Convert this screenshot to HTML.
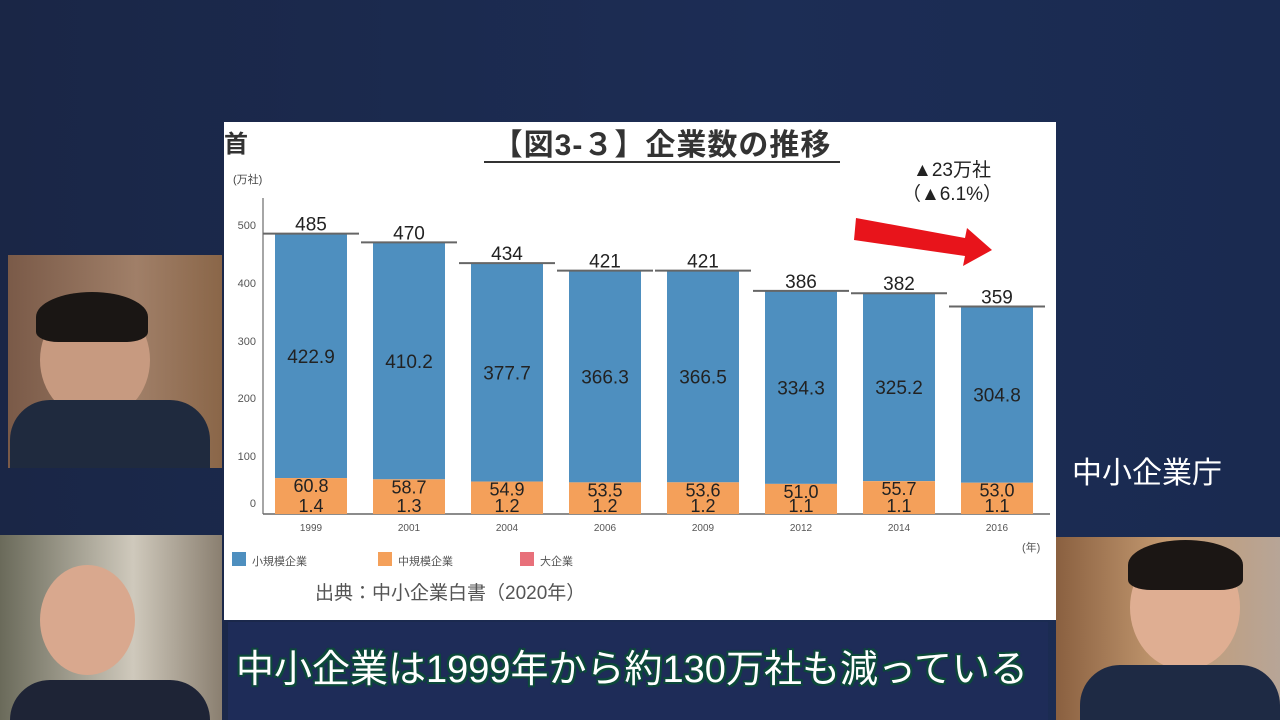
<!DOCTYPE html>
<html><head><meta charset="utf-8"><style>
body{margin:0;width:1280px;height:720px;overflow:hidden;background:linear-gradient(90deg,#1a2646 0%,#1c2d55 60%,#1a2a50 100%);position:relative;font-family:"Liberation Sans","Noto Sans CJK JP",sans-serif}
.abs{position:absolute}
</style></head><body>
<div class="abs" style="left:8px;top:255px;width:214px;height:213px;background:linear-gradient(90deg,#7a5a48,#a07f68 60%,#8a6648)"></div>
<div class="abs" style="left:40px;top:300px;width:110px;height:120px;border-radius:50%;background:#c79a80"></div>
<div class="abs" style="left:36px;top:292px;width:112px;height:50px;border-radius:50% 50% 20% 20%;background:#1a1614"></div>
<div class="abs" style="left:10px;top:400px;width:200px;height:68px;border-radius:40px 40px 0 0;background:#1f2a3e"></div>
<div class="abs" style="left:0;top:535px;width:222px;height:185px;background:linear-gradient(90deg,#6a6a5a,#cfc9bc 60%,#8a7f70)"></div>
<div class="abs" style="left:40px;top:565px;width:95px;height:110px;border-radius:50%;background:#d9a88e"></div>
<div class="abs" style="left:10px;top:680px;width:200px;height:40px;border-radius:40px 40px 0 0;background:#1e2436"></div>
<div class="abs" style="left:1056px;top:537px;width:224px;height:183px;background:linear-gradient(90deg,#8a6040,#c59b72 50%,#b7a597)"></div>
<div class="abs" style="left:1130px;top:545px;width:110px;height:125px;border-radius:50%;background:#dfae92"></div>
<div class="abs" style="left:1128px;top:540px;width:115px;height:50px;border-radius:50% 50% 20% 20%;background:#1b1614"></div>
<div class="abs" style="left:1080px;top:665px;width:200px;height:55px;border-radius:40px 40px 0 0;background:#1e2a44"></div>
<div class="abs" style="left:1072px;top:448px;color:#fff;font-size:30px">中小企業庁</div>
<svg class="abs" style="left:0;top:0" width="1280" height="720" font-family="Liberation Sans, Noto Sans CJK JP, sans-serif">
<rect x="224" y="122" width="832" height="498" fill="#fff"/>
<text x="224" y="152" font-size="24" font-weight="bold" fill="#333">首</text>
<text x="662" y="155" font-size="30" font-weight="bold" fill="#333" text-anchor="middle" letter-spacing="1">【図3-３】企業数の推移</text>
<line x1="484" y1="162" x2="840" y2="162" stroke="#333" stroke-width="2"/>
<text x="952" y="176" font-size="19" fill="#222" text-anchor="middle">▲23万社</text>
<text x="952" y="200" font-size="19" fill="#222" text-anchor="middle">（▲6.1%）</text>
<polygon points="856,218 965,238 967,228 992,250 963,266 965,256 854,240" fill="#e8141b"/>
<text x="233" y="183" font-size="11" fill="#444">(万社)</text>
<line x1="263" y1="198" x2="263" y2="514" stroke="#888" stroke-width="1.5"/>
<line x1="263" y1="514" x2="1050" y2="514" stroke="#666" stroke-width="1.5"/>
<g font-size="11" fill="#555" text-anchor="end">
<text x="256" y="229">500</text><text x="256" y="287">400</text><text x="256" y="345">300</text><text x="256" y="402">200</text><text x="256" y="460">100</text><text x="256" y="507">0</text></g>
<g id="bars"></g>
<g font-size="11" fill="#555">
<rect x="232" y="552" width="14" height="14" fill="#4e8fbf"/><text x="252" y="565">小規模企業</text>
<rect x="378" y="552" width="14" height="14" fill="#f4a05a"/><text x="398" y="565">中規模企業</text>
<rect x="520" y="552" width="14" height="14" fill="#e8707a"/><text x="540" y="565">大企業</text>
<text x="1022" y="551">(年)</text></g>
<text x="315" y="599" font-size="19" fill="#555">出典：中小企業白書（2020年）</text>
</svg>
<div class="abs" style="left:228px;top:622px;width:820px;height:98px;background:#1e2c58"></div>
<div class="abs" style="left:236px;top:638px;color:#fff;font-size:38px;text-shadow:0 0 3px #0d4a3a,2px 2px 0 #0d4a3a,-2px -2px 0 #0d4a3a,2px -2px 0 #0d4a3a,-2px 2px 0 #0d4a3a">中小企業は1999年から約130万社も減っている</div>
<script>
var d=[[1999,485,422.9,60.8,1.4],[2001,470,410.2,58.7,1.3],[2004,434,377.7,54.9,1.2],[2006,421,366.3,53.5,1.2],[2009,421,366.5,53.6,1.2],[2012,386,334.3,51.0,1.1],[2014,382,325.2,55.7,1.1],[2016,359,304.8,53.0,1.1]];
var s=0.578,b=514,h='';
d.forEach(function(r,i){var c=311+98*i,x=c-36;
var ho=(r[3]+r[4])*s,ht=r[1]*s;
h+='<rect x="'+x+'" y="'+(b-ht)+'" width="72" height="'+(ht-ho)+'" fill="#4e8fbf"/>';
h+='<rect x="'+x+'" y="'+(b-ho)+'" width="72" height="'+ho+'" fill="#f4a05a"/>';
h+='<line x1="'+(c-48)+'" y1="'+(b-ht)+'" x2="'+(c+48)+'" y2="'+(b-ht)+'" stroke="#666" stroke-width="2"/>';
h+='<text x="'+c+'" y="'+(b-ht-3)+'" font-size="19" fill="#222" text-anchor="middle">'+r[1]+'</text>';
h+='<text x="'+c+'" y="'+(b-(ht+ho)/2+7)+'" font-size="19" fill="#222" text-anchor="middle">'+r[2].toFixed(1)+'</text>';
h+='<text x="'+c+'" y="'+(b-ho+14)+'" font-size="18" fill="#222" text-anchor="middle">'+r[3].toFixed(1)+'</text>';
h+='<text x="'+c+'" y="'+(b-2)+'" font-size="18" fill="#222" text-anchor="middle">'+r[4].toFixed(1)+'</text>';
h+='<text x="'+c+'" y="531" font-size="10" fill="#555" text-anchor="middle">'+r[0]+'</text>';});
document.getElementById('bars').innerHTML=h;
</script>
</body></html>
